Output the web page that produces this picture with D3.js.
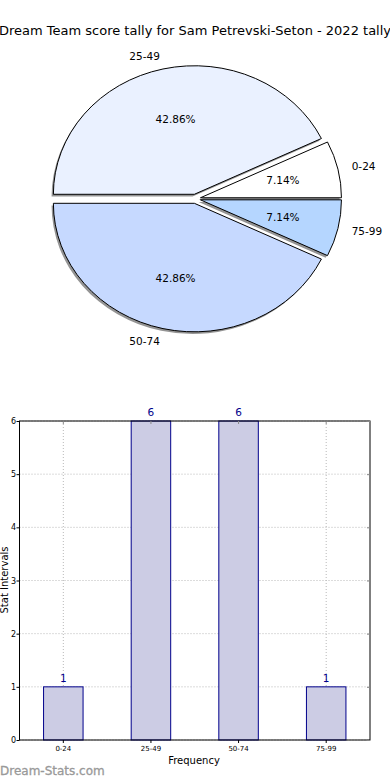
<!DOCTYPE html>
<html><head><meta charset="utf-8">
<script src="https://cdn.jsdelivr.net/npm/d3@7"></script>
<style>html,body{margin:0;padding:0;background:#fff;}svg{display:block;font-family:"DejaVu Sans",sans-serif;}</style>
</head><body>
<script>
const title = "Dream Team score tally for Sam Petrevski-Seton - 2022 tally";
const categories = ["0-24", "25-49", "50-74", "75-99"];
const counts = [1, 6, 6, 1];
const sliceColors = ["#ffffff", "#eaf1ff", "#c6d9ff", "#b5d6ff"];
const yTicks = [0, 1, 2, 3, 4, 5, 6];

const W = 390, H = 780;
const svg = d3.select("body").append("svg").attr("width", W).attr("height", H);

svg.append("text").attr("x", 195).attr("y", 35).attr("text-anchor", "middle")
  .attr("font-size", 13).text(title);

// ---- Pie ----
const cx = 195.5, cy = 198.8, rx = 141, ry = 128.5, explode = 0.036;
const pie = d3.pie().sort(null).startAngle(Math.PI / 2).endAngle(Math.PI / 2 - 2 * Math.PI);
const arcs = pie(counts);
const unitArc = d3.arc().innerRadius(0).outerRadius(1);
const total = d3.sum(counts);
function off(a) {
  const m = (a.startAngle + a.endAngle) / 2;
  return [cx + explode * rx * Math.sin(m), cy - explode * ry * Math.cos(m), m];
}
const pg = svg.append("g");
arcs.forEach(a => {
  const [x, y] = off(a);
  pg.append("path").attr("d", unitArc(a))
    .attr("transform", `translate(${x - 1.8},${y + 2.2}) scale(${rx},${ry})`)
    .attr("fill", "#000").attr("fill-opacity", 0.42);
});
arcs.forEach((a, i) => {
  const [x, y] = off(a);
  pg.append("path").attr("d", unitArc(a))
    .attr("transform", `translate(${x},${y}) scale(${rx},${ry})`)
    .attr("fill", sliceColors[i]).attr("stroke", "#000").attr("stroke-width", 1)
    .attr("vector-effect", "non-scaling-stroke");
});
arcs.forEach((a, i) => {
  const [x, y, m] = off(a);
  const sx = Math.sin(m), sy = -Math.cos(m);
  pg.append("text").attr("x", x + 1.1 * rx * sx).attr("y", y + 1.1 * ry * sy)
    .attr("dy", "0.35em").attr("font-size", 10.5)
    .attr("text-anchor", sx > 0 ? "start" : "end").text(categories[i]);
  pg.append("text").attr("x", x + 0.6 * rx * sx).attr("y", y + 0.6 * ry * sy)
    .attr("dy", "0.35em").attr("font-size", 10.5).attr("text-anchor", "middle")
    .text((counts[i] / total * 100).toFixed(2) + "%");
});

// ---- Bar chart ----
const L = 19.5, R = 370, T = 421, B = 740;
const x = d3.scaleBand().domain(categories).range([L, R]).paddingInner(0).paddingOuter(0);
const y = d3.scaleLinear().domain([0, 6]).range([B, T]);
const g = svg.append("g");
const bw = 39.5;
g.selectAll(".gy").data(yTicks).enter().append("line")
  .attr("x1", L).attr("x2", R).attr("y1", d => y(d)).attr("y2", d => y(d))
  .attr("stroke", "#b8b8b8").attr("stroke-dasharray", "1,2");
g.selectAll(".gx").data(categories).enter().append("line")
  .attr("x1", d => x(d) + x.bandwidth() / 2).attr("x2", d => x(d) + x.bandwidth() / 2)
  .attr("y1", T).attr("y2", B)
  .attr("stroke", "#b8b8b8").attr("stroke-dasharray", "1,2");
g.selectAll(".bar").data(counts).enter().append("rect")
  .attr("x", (d, i) => x(categories[i]) + x.bandwidth() / 2 - bw / 2)
  .attr("y", d => y(d)).attr("width", bw).attr("height", d => B - y(d))
  .attr("fill", "#ccccE4").attr("stroke", "#00008b").attr("stroke-width", 1);
g.selectAll(".vl").data(counts).enter().append("text")
  .attr("x", (d, i) => x(categories[i]) + x.bandwidth() / 2)
  .attr("y", d => y(d) - 5).attr("text-anchor", "middle")
  .attr("font-size", 10.5).attr("fill", "#00008b").text(d => d);
g.append("rect").attr("x", L).attr("y", T).attr("width", R - L).attr("height", B - T)
  .attr("fill", "none").attr("stroke", "#000").attr("stroke-width", 1);
const yAxis = d3.axisLeft(y).tickValues(yTicks).tickSize(3).tickPadding(0.5).tickFormat(d3.format("d"));
const ya = g.append("g").attr("transform", `translate(${L},0)`).call(yAxis);
ya.select(".domain").remove();
ya.selectAll("text").attr("font-size", 8).attr("font-family", "DejaVu Sans");
const yr = g.append("g").attr("transform", `translate(${R},0)`)
  .call(d3.axisLeft(y).tickValues(yTicks).tickSize(3).tickFormat(""));
yr.select(".domain").remove();
yr.selectAll("line").attr("stroke", "#888");
const xAxis = d3.axisBottom(x).tickSize(3).tickPadding(3);
const xa = g.append("g").attr("transform", `translate(0,${B})`).call(xAxis);
xa.select(".domain").remove();
xa.selectAll("text").attr("font-size", 7).attr("font-family", "DejaVu Sans");
const xt = g.append("g").attr("transform", `translate(0,${T})`)
  .call(d3.axisBottom(x).tickSize(3).tickFormat(""));
xt.select(".domain").remove();
xt.selectAll("line").attr("stroke", "#888");

svg.append("text").attr("x", 194).attr("y", 764).attr("text-anchor", "middle")
  .attr("font-size", 10).text("Frequency");
svg.append("text").attr("transform", "translate(8,580) rotate(-90)")
  .attr("text-anchor", "middle").attr("font-size", 10).text("Stat Intervals");
svg.append("text").attr("x", 0).attr("y", 775).attr("font-size", 12)
  .attr("fill", "#999").attr("stroke", "#999").attr("stroke-width", 0.3).text("Dream-Stats.com");
</script>
</body></html>
